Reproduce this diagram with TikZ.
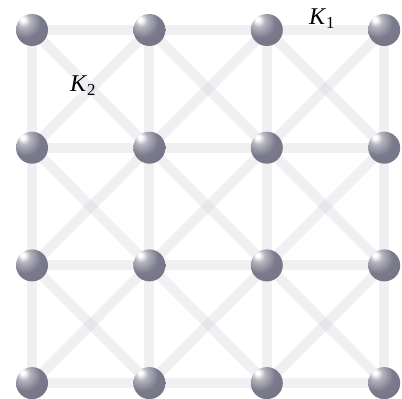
\documentclass[tikz,border=0pt]{standalone}
\usepackage{fontspec}
\setmainfont{Liberation Serif}
\usetikzlibrary{backgrounds}
\definecolor{ballgray}{RGB}{122,122,140}
\definecolor{bondgray}{RGB}{200,200,210}
\pgfdeclareradialshading{sphereshade}{\pgfpoint{-15bp}{17bp}}{%
  color(0bp)=(white); color(3bp)=(white); color(10bp)=(ballgray!55!white);
  color(24bp)=(ballgray); color(60bp)=(ballgray!90!black); color(80bp)=(ballgray!82!black)}

\begin{document}
\begin{tikzpicture}[x=1pt,y=-1pt,
    sphere/.style={circle, minimum size=32pt, inner sep=0pt, shading=sphereshade},
    bond/.style={bondgray, line width=10pt, opacity=0.27},
    lab/.style={font=\fontsize{24}{28}\selectfont, inner sep=0pt}]
    \useasboundingbox (0,0) rectangle (402,399);
    % Lattice sites
    \foreach \i in {0,...,3}
      \foreach \j in {0,...,3}
        \node[sphere] (b\i\j) at ({32+117.4*\i},{30+117.7*\j}) {};
    % Bonds: nearest neighbours and diagonals
    \begin{scope}[on background layer]
      \foreach \i/\k in {0/1,1/2,2/3}
        \foreach \j in {0,...,3} {
          \draw[bond] (b\i\j.center) -- (b\k\j.center);
          \draw[bond] (b\j\i.center) -- (b\j\k.center);
        }
      \foreach \i/\k in {0/1,1/2,2/3}
        \foreach \j/\l in {0/1,1/2,2/3} {
          \draw[bond] (b\i\j.center) -- (b\k\l.center);
          \draw[bond] (b\k\j.center) -- (b\i\l.center);
        }
    \end{scope}
    % Coupling labels
    \node[lab] (k1) at (322,19) {\textit{K}\textsubscript{1}};
    \node[lab] (k2) at (83,86) {\textit{K}\textsubscript{2}};
  \end{tikzpicture}
\end{document}
